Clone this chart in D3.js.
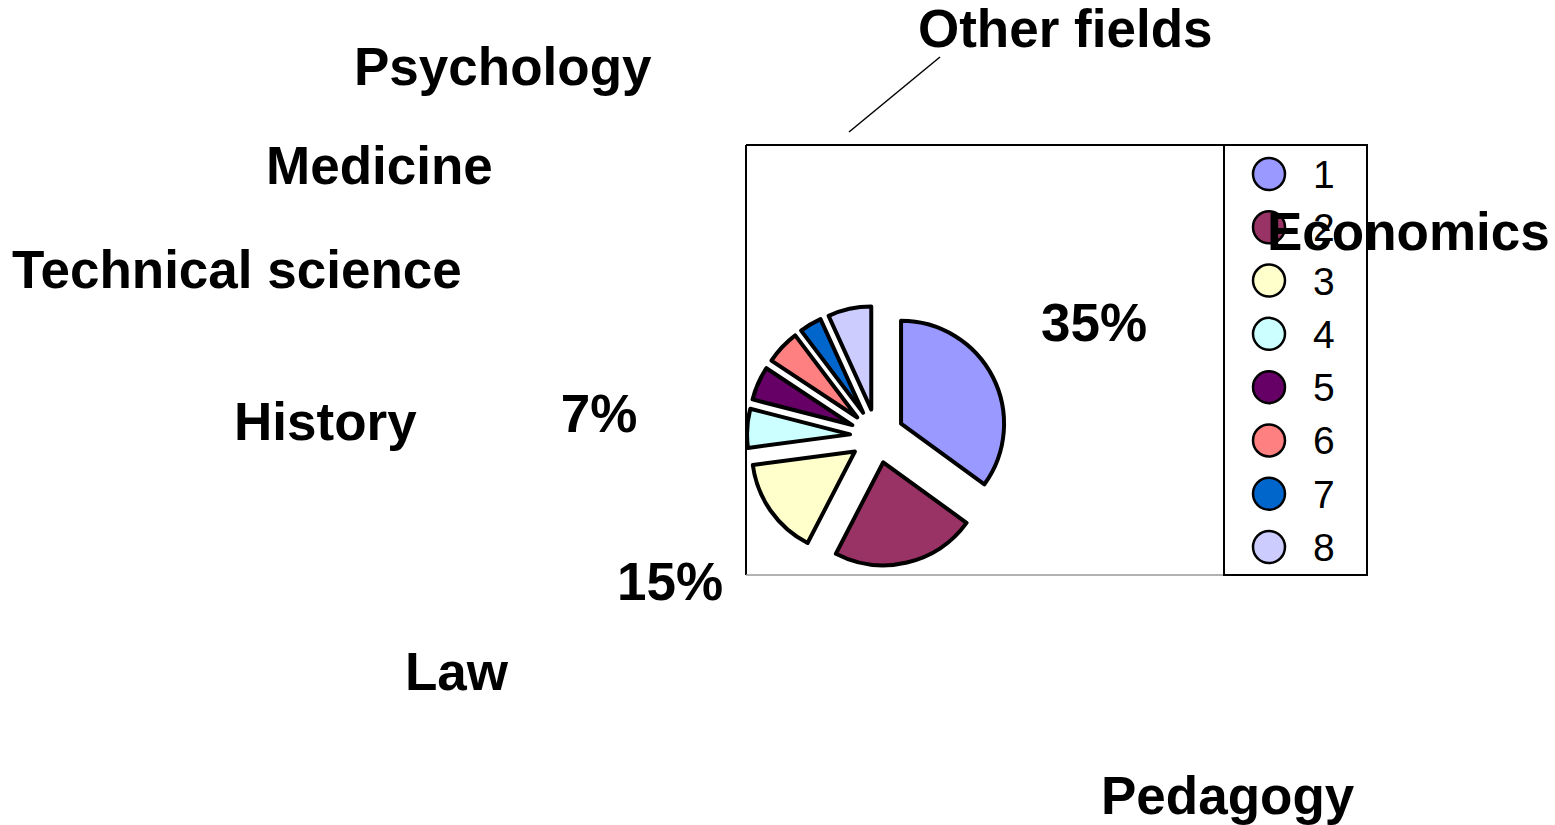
<!doctype html>
<html lang="en">
<head>
  <meta charset="utf-8">
  <title>Fields</title>
  <style>
    body { margin: 0; background: #fff; }
    svg { display: block; }
    .lbl { font-family: "Liberation Sans", Arial, sans-serif; font-weight: bold; font-size: 53px; fill: #000; }
    .leg { font-family: "Liberation Sans", Arial, sans-serif; font-size: 39px; fill: #000; }
  </style>
</head>
<body>
  <div id="chart"></div>
  <script src="https://cdn.jsdelivr.net/npm/d3@7"></script>
  <script>
// series
var keys = ["1", "2", "3", "4", "5", "6", "7", "8"];
var fields = ["Economics", "Pedagogy", "Law", "History", "Technical science", "Medicine", "Psychology", "Other fields"];
var values = [35, 22.6, 15.3, 6.1, 5.3, 5.4, 3.5, 6.8];
var colors = ["#9999FF", "#993366", "#FFFFCC", "#CCFFFF", "#660066", "#FF8080", "#0066CC", "#CCCCFF"];
// only three data labels are visible
var pctShown = [{i: 0, text: "35%"}, {i: 2, text: "15%"}, {i: 3, text: "7%"}];

(function(){
  var width = 1555, height = 825;
  var cx = 877, cy = 436, r = 103, explode = 27;
  var plot = {x: 746, y: 145, w: 478, h: 430};

  var svg = d3.select("#chart").append("svg")
      .attr("width", width)
      .attr("height", height);

  svg.append("clipPath").attr("id", "plotclip")
    .append("rect")
      .attr("x", plot.x).attr("y", plot.y)
      .attr("width", plot.w + 150).attr("height", plot.h);

  // plot area frame: black left/top, grey bottom
  svg.append("line").attr("x1", plot.x).attr("y1", plot.y).attr("x2", plot.x + plot.w).attr("y2", plot.y)
      .attr("stroke", "#000").attr("stroke-width", 2);
  svg.append("line").attr("x1", plot.x).attr("y1", plot.y).attr("x2", plot.x).attr("y2", plot.y + plot.h)
      .attr("stroke", "#000").attr("stroke-width", 2);
  svg.append("line").attr("x1", plot.x).attr("y1", plot.y + plot.h).attr("x2", plot.x + plot.w).attr("y2", plot.y + plot.h)
      .attr("stroke", "#999").attr("stroke-width", 1.5);

  var pie = d3.pie().sort(null).value(function(d){ return d; });
  var arcs = pie(values);
  var arc = d3.arc().innerRadius(0).outerRadius(r);

  var g = svg.append("g").attr("clip-path", "url(#plotclip)")
    .append("g").attr("transform", "translate(" + cx + "," + cy + ")");

  g.selectAll("path").data(arcs).enter().append("path")
      .attr("d", arc)
      .attr("transform", function(d){
        var a = (d.startAngle + d.endAngle) / 2;
        return "translate(" + (Math.sin(a) * explode) + "," + (-Math.cos(a) * explode) + ")";
      })
      .attr("fill", function(d, i){ return colors[i]; })
      .attr("stroke", "#000")
      .attr("stroke-width", 4)
      .attr("stroke-linejoin", "round");

  // legend
  var leg = svg.append("g");
  leg.append("rect").attr("x", 1224).attr("y", 145).attr("width", 143).attr("height", 430)
      .attr("fill", "#fff").attr("stroke", "#000").attr("stroke-width", 2);
  var ly = d3.scalePoint().domain(keys).range([174, 547]);
  var row = leg.selectAll("g.row").data(keys).enter().append("g").attr("class", "row")
      .attr("transform", function(d){ return "translate(0," + ly(d) + ")"; });
  row.append("circle").attr("cx", 1269).attr("cy", 0).attr("r", 16)
      .attr("fill", function(d, i){ return colors[i]; })
      .attr("stroke", "#000").attr("stroke-width", 2.5);
  row.append("text").attr("class", "leg").attr("x", 1313).attr("y", 14).text(function(d){ return d; });

  // stray category labels (positions as exported)
  var fieldPos = [[1267, 250], [1101, 814], [405, 690], [234, 440], [12, 288], [266, 184], [354, 85], [918, 47]];
  svg.selectAll("text.field").data(fields).enter().append("text")
      .attr("class", "lbl field")
      .attr("x", function(d, i){ return fieldPos[i][0]; })
      .attr("y", function(d, i){ return fieldPos[i][1]; })
      .text(function(d){ return d; });

  // leader line for "Other fields"
  svg.append("line").attr("x1", 940).attr("y1", 57).attr("x2", 849).attr("y2", 132)
      .attr("stroke", "#000").attr("stroke-width", 1.5);

  var pctPos = [[1094, 341], [670, 600], [599, 432]];
  svg.selectAll("text.pct").data(pctShown).enter().append("text")
      .attr("class", "lbl pct")
      .attr("text-anchor", "middle")
      .attr("x", function(d, i){ return pctPos[i][0]; })
      .attr("y", function(d, i){ return pctPos[i][1]; })
      .text(function(d){ return d.text; });
})();
  </script>
</body>
</html>
